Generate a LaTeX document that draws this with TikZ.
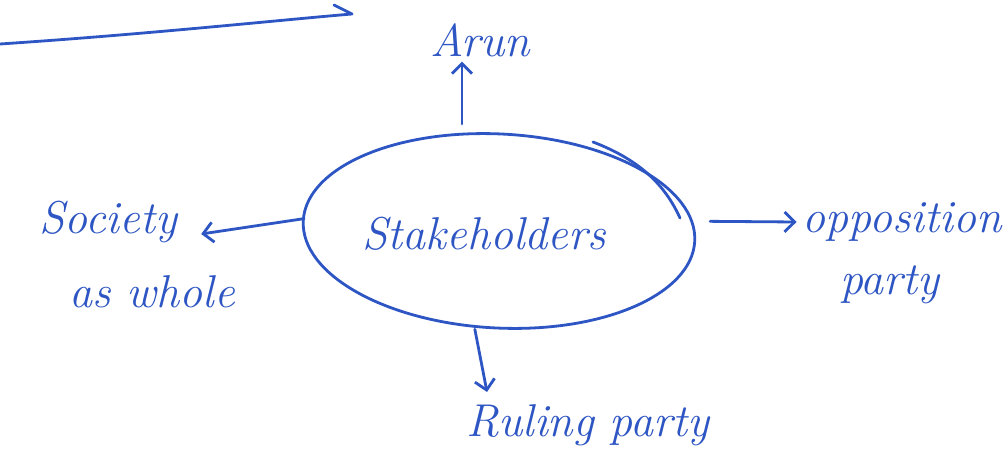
\documentclass[tikz,border=0pt]{standalone}
\usetikzlibrary{shapes.geometric,arrows.meta,calc}
\definecolor{ink}{RGB}{45,85,195}
\begin{document}
\begin{tikzpicture}[x=1pt,y=-1pt,
  hand/.style={text=ink,font=\fontsize{46}{50}\selectfont\itshape,inner sep=0pt},
  pen/.style={draw=ink,line width=2.8pt,line cap=round,line join=round},
  con/.style={pen,-{Straight Barb[length=10pt,width=20pt,line width=2.8pt]}}]
\useasboundingbox[fill=white] (0,0) rectangle (1006,473);
% top-left stroke
\coordinate (l0) at (0,44);
\coordinate (l1) at (352,14);
\draw[pen] (l0) .. controls (150,34) and (280,20) .. (l1) -- (334,5);
% central ellipse
\node[ellipse,pen,minimum width=392pt,minimum height=194pt,inner sep=0pt,rotate=-3] (st) at (499,231) {};
\draw[pen] (593,142) .. controls (640,160) and (665,185) .. (680,218);
\node[hand] (stt) at (484,234) {Stakeholders};
% labels
\node[hand,outer sep=5pt] (arun) at (480,40) {Arun};
\node[hand] (soc) at (108,222) {Society};
\node[hand] (whole) at (152,292) {as whole};
\node[hand,outer sep=6pt] (opp) at (902,222) {opposition};
\node[hand] (party) at (890,285) {party};
\node[hand] (rp) at (588,425) {Ruling party};
% connectors
\coordinate (aup) at (462,124);
\draw[con] (aup) -- (aup |- arun.south);
\draw[con] ($(st.west)+(2,-2)$) -- ($(soc.east)+(24,12)$);
\draw[con] ($(st.east)+(14,-20)$) -- (opp.west);
\coordinate (rtip) at (487,392);
\draw[con] ($(st.south)+(-19,0)$) -- (rtip);
\end{tikzpicture}
\end{document}
